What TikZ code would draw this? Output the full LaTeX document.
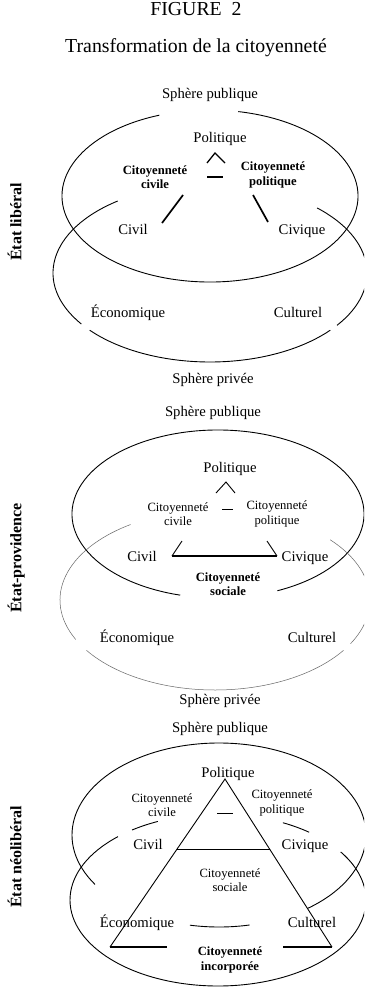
\documentclass[tikz,border=0pt]{standalone}
\usepackage{fontspec}
\setmainfont{Liberation Serif}
\newcommand\earc[7][]{\draw[ell,#1] ([shift={(#2,#3)}]#6:#4pt and #5pt) arc[start angle=#6,end angle=#7,x radius=#4pt,y radius=#5pt];}
\begin{document}
\begin{tikzpicture}[x=1pt,y=-1pt,
  lbl/.style={font=\fontsize{14.7}{16}\selectfont, inner sep=0pt, text height=0.7em, text depth=0.25em},
  sml/.style={font=\fontsize{12.6}{14.2}\selectfont, align=center, inner sep=0pt},
  bsml/.style={font=\bfseries\fontsize{12.6}{14.2}\selectfont, align=center, inner sep=0pt},
  side/.style={font=\bfseries\fontsize{16}{18}\selectfont, rotate=90, inner sep=0pt, text height=0.7em, text depth=0.25em},
  ttl/.style={font=\fontsize{19.8}{22}\selectfont, inner sep=0pt, text height=0.7em, text depth=0.25em},
  ell/.style={line width=0.9pt},
  thinell/.style={line width=0.5pt, black!60},
  seg/.style={line width=0.9pt},
  thickseg/.style={line width=1.7pt},
  basesg/.style={line width=2.3pt}]
\useasboundingbox (0,0) rectangle (364,990);
\fill[white] (0,0) rectangle (364,990);

% titles
\node[ttl] (fig) at (196,13) {FIGURE\ \ 2};
\node[ttl] (title) at (196,50) {Transformation de la citoyenneté};

\begin{scope}
\clip (0,0) rectangle (364,990);
% ---- panel 1 ellipses
\earc{210}{196}{148}{86}{110}{439}
\earc{210}{273}{157}{89}{-36}{47}
\earc{210}{273}{157}{89}{126}{215}
\earc{210}{273}{157}{89}{220}{320}
% ---- panel 2 ellipses
\earc{218}{514}{146}{84}{-66}{255}
\earc[thinell]{215}{600}{155}{90}{-29}{42}
\earc[thinell]{215}{600}{155}{90}{123}{206}
\earc[thinell]{215}{600}{155}{90}{214}{326}
% ---- panel 3 ellipses
\earc{219}{835}{147}{92}{258.6}{282}
\earc{219}{835}{147}{92}{307}{572.5}
\earc{218}{900}{148}{86}{52}{64}
\earc{218}{900}{148}{86}{114}{125.5}
\earc{218}{900}{148}{86}{132.5}{394}
\end{scope}

% ---- panel 1
\node[lbl] (pub1) at (210,96) {Sphère publique};
\node[lbl] (pol1) at (220,140) {Politique};
\node[bsml] (cc1) at (155,177) {Citoyenneté\\civile};
\node[bsml] (cp1) at (273,175) {Citoyenneté\\politique};
\node[lbl] (civ1) at (133,232) {Civil};
\node[lbl] (civq1) at (302,232) {Civique};
\node[lbl] (eco1) at (128,315) {Économique};
\node[lbl] (cul1) at (298,315) {Culturel};
\node[lbl] (priv1) at (213,381) {Sphère privée};
\node[side] (side1) at (19,222) {État libéral};
\draw[seg, line width=1.3pt] (207,163) -- (215,153) -- (225,163);
\draw[seg, line width=1.2pt] (207,177) -- (223,177);
\draw[thickseg] (162,223) -- (183,195);
\draw[thickseg] (253,195) -- (268,222);

% ---- panel 2
\node[lbl] (pub2) at (213,414) {Sphère publique};
\node[lbl] (pol2) at (230,470) {Politique};
\node[sml] (cc2) at (178,514) {Citoyenneté\\civile};
\node[sml] (cp2) at (277,514) {Citoyenneté\\politique};
\node[lbl] (civ2) at (142,559) {Civil};
\node[lbl] (civq2) at (305,559) {Civique};
\node[bsml] (cs2) at (228,584) {Citoyenneté\\sociale};
\node[lbl] (eco2) at (137,640) {Économique};
\node[lbl] (cul2) at (312,640) {Culturel};
\node[lbl] (priv2) at (220,702) {Sphère privée};
\node[side] (side2) at (19,558) {État-providence};
\draw[seg] (216,493) -- (226,482) -- (235,493);
\draw[seg] (222,509) -- (233,509);
\coordinate (bl2) at (172,556);
\coordinate (br2) at (277,556);
\draw[seg] (182,541) -- (bl2);
\draw[seg] (267,541) -- (br2);
\draw[basesg] (bl2) -- (br2);

% ---- panel 3
\node[lbl] (pub3) at (220,730) {Sphère publique};
\coordinate (apex3) at (225,779);
\coordinate (bl3) at (110,947);
\coordinate (br3) at (332,947);
\draw[seg] (bl3) -- (apex3) -- (br3);
\draw[seg] (177,849) -- (270,849);
\draw[seg] (217,813) -- (233,813);
\draw[basesg] (bl3) -- (167,947);
\draw[basesg] (283,947) -- (br3);
\node[lbl] (pol3) at (228,775) {Politique};
\node[sml] (cc3) at (162,805) {Citoyenneté\\civile};
\node[sml] (cp3) at (282,803) {Citoyenneté\\politique};
\node[lbl] (civ3) at (148,847) {Civil};
\node[lbl] (civq3) at (305,847) {Civique};
\node[sml] (cs3) at (230,880) {Citoyenneté\\sociale};
\node[lbl] (eco3) at (137,925) {Économique};
\node[lbl] (cul3) at (312,925) {Culturel};
\node[bsml] (ci3) at (230,960) {Citoyenneté\\incorporée};
\node[side] (side3) at (19,857) {État néolibéral};
\end{tikzpicture}
\end{document}
